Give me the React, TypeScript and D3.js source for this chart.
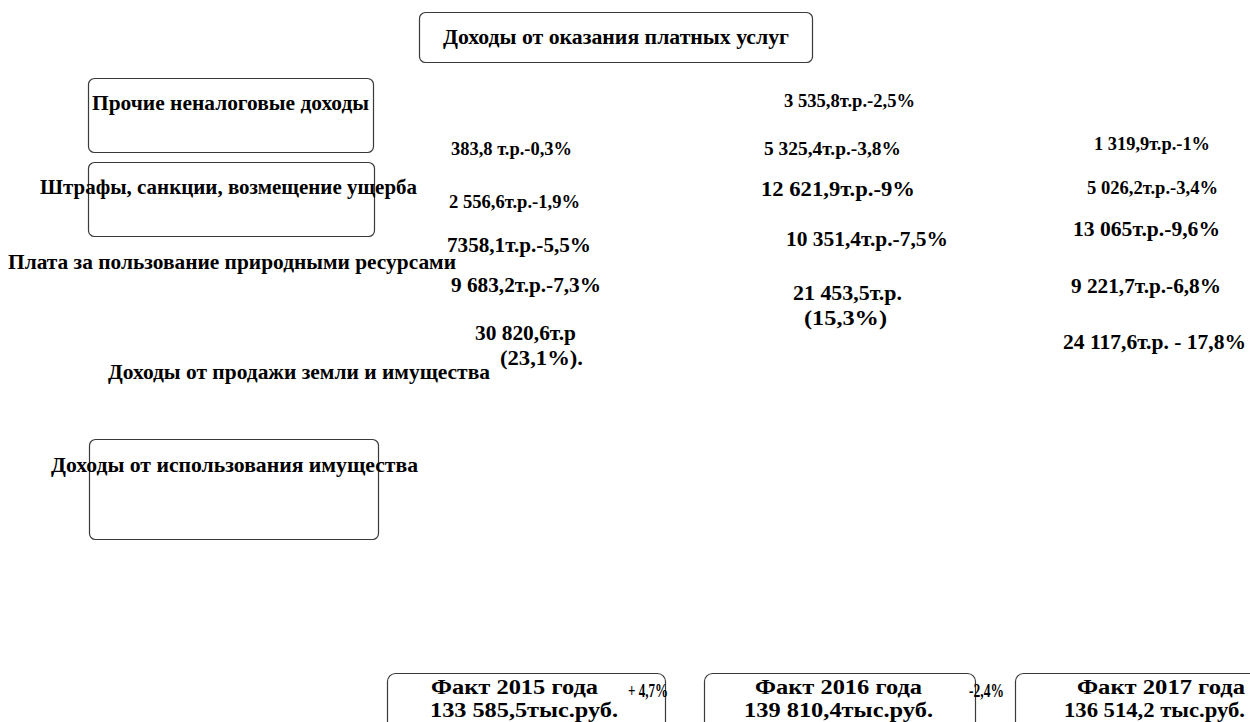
import React from "react";
import * as d3 from "d3";

// ---- data ----
const categories = [
  "Доходы от оказания платных услуг",
  "Прочие неналоговые доходы",
  "Штрафы, санкции, возмещение ущерба",
  "Плата за пользование природными ресурсами",
  "Доходы от продажи земли и имущества",
  "Доходы от использования имущества",
];
const years = ["2015", "2016", "2017"];
const totals = ["133 585,5тыс.руб.", "139 810,4тыс.руб.", "136 514,2 тыс.руб."];
const growth = ["+ 4,7%", "-2,4%"];
const values2015 = ["383,8 т.р.-0,3%", "2 556,6т.р.-1,9%", "7358,1т.р.-5,5%", "9 683,2т.р.-7,3%", "30 820,6т.р", "(23,1%)."];
const values2016 = ["3 535,8т.р.-2,5%", "5 325,4т.р.-3,8%", "12 621,9т.р.-9%", "10 351,4т.р.-7,5%", "21 453,5т.р.", "(15,3%)"];
const values2017 = ["1 319,9т.р.-1%", "5 026,2т.р.-3,4%", "13 065т.р.-9,6%", "9 221,7т.р.-6,8%", "24 117,6т.р. - 17,8%"];

// ---- layout (positions only) ----
const FONT = "'Liberation Serif', 'Times New Roman', Times, serif";
const catLayout = [
  { x: 443, y: 44, w: 346, fs: 20 },
  { x: 92, y: 110, w: 277, fs: 22 },
  { x: 40, y: 194, w: 377, fs: 22 },
  { x: 8, y: 269, w: 448, fs: 22 },
  { x: 108, y: 379, w: 382, fs: 22 },
  { x: 51, y: 472, w: 367, fs: 22 },
];
const catBoxes = [
  { x: 419, y: 12, w: 393, h: 50 },
  { x: 88, y: 78, w: 285, h: 74 },
  { x: 88, y: 162, w: 286, h: 74 },
  { x: 89, y: 439, w: 289, h: 100 },
];
const valLayout2015 = [
  { x: 451, y: 155, w: 121, fs: 18 },
  { x: 449, y: 208, w: 131, fs: 18 },
  { x: 447, y: 252, w: 144, fs: 22 },
  { x: 451, y: 292, w: 150, fs: 22 },
  { x: 475, y: 340, w: 101, fs: 22 },
  { x: 500, y: 365, w: 83, fs: 22 },
];
const valLayout2016 = [
  { x: 784, y: 107, w: 131, fs: 18 },
  { x: 764, y: 155, w: 137, fs: 18 },
  { x: 761, y: 196, w: 154, fs: 22 },
  { x: 786, y: 246, w: 162, fs: 22 },
  { x: 793, y: 300, w: 109, fs: 22 },
  { x: 804, y: 325, w: 83, fs: 22 },
];
const valLayout2017 = [
  { x: 1094, y: 150, w: 116, fs: 18 },
  { x: 1087, y: 194, w: 131, fs: 18 },
  { x: 1073, y: 236, w: 147, fs: 22 },
  { x: 1071, y: 293, w: 150, fs: 22 },
  { x: 1063, y: 349, w: 183, fs: 22 },
];
const yearBoxes = [
  { x: 387, w: 278 },
  { x: 704, w: 271 },
  { x: 1015, w: 250 },
];
const yearText = [
  { x1: 431, w1: 167, x2: 430, w2: 188 },
  { x1: 755, w1: 167, x2: 744, w2: 189 },
  { x1: 1077, w1: 168, x2: 1064, w2: 181 },
];
const growthLayout = [
  { x: 628, w: 40 },
  { x: 969, w: 35 },
];

function T({ x, y, w, fs, text, anchor = "start" }: any) {
  return (
    <text
      x={x}
      y={y}
      fontFamily={FONT}
      fontWeight="bold"
      fontSize={fs}
      textAnchor={anchor}
      textLength={w}
      lengthAdjust="spacingAndGlyphs"
      fill="#000"
    >
      {text}
    </text>
  );
}

export default function App() {
  const yScale = d3.scaleLinear().domain([0, 722]).range([0, 722]);
  const valueCols = [
    { vals: values2015, lay: valLayout2015 },
    { vals: values2016, lay: valLayout2016 },
    { vals: values2017, lay: valLayout2017 },
  ];
  const boxTop = 673;
  return (
    <svg
      width={1250}
      height={722}
      style={{ position: "absolute", left: 0, top: 0, background: "#fff" }}
    >
      {catBoxes.map((b, i) => (
        <rect key={"cb" + i} x={b.x + 0.5} y={yScale(b.y) + 0.5} width={b.w} height={b.h} rx={6}
          fill="none" stroke="#3a3a3a" strokeWidth={1.2} />
      ))}
      {categories.map((c, i) => (
        <T key={"c" + i} {...catLayout[i]} text={c} />
      ))}
      {valueCols.map((col, j) =>
        col.vals.map((v, i) => <T key={"v" + j + "_" + i} {...col.lay[i]} text={v} />)
      )}
      {years.map((yr, i) => (
        <g key={"y" + i}>
          <rect x={yearBoxes[i].x + 0.5} y={boxTop + 0.5} width={yearBoxes[i].w} height={80} rx={8}
            fill="none" stroke="#3a3a3a" strokeWidth={1.2} />
          <T x={yearText[i].x1} y={694} w={yearText[i].w1} fs={20} text={`Факт ${yr} года`} />
          <T x={yearText[i].x2} y={717} w={yearText[i].w2} fs={20} text={totals[i]} />
        </g>
      ))}
      {growth.map((g, i) => (
        <T key={"g" + i} x={growthLayout[i].x} y={697} w={growthLayout[i].w} fs={19} text={g} />
      ))}
    </svg>
  );
}
